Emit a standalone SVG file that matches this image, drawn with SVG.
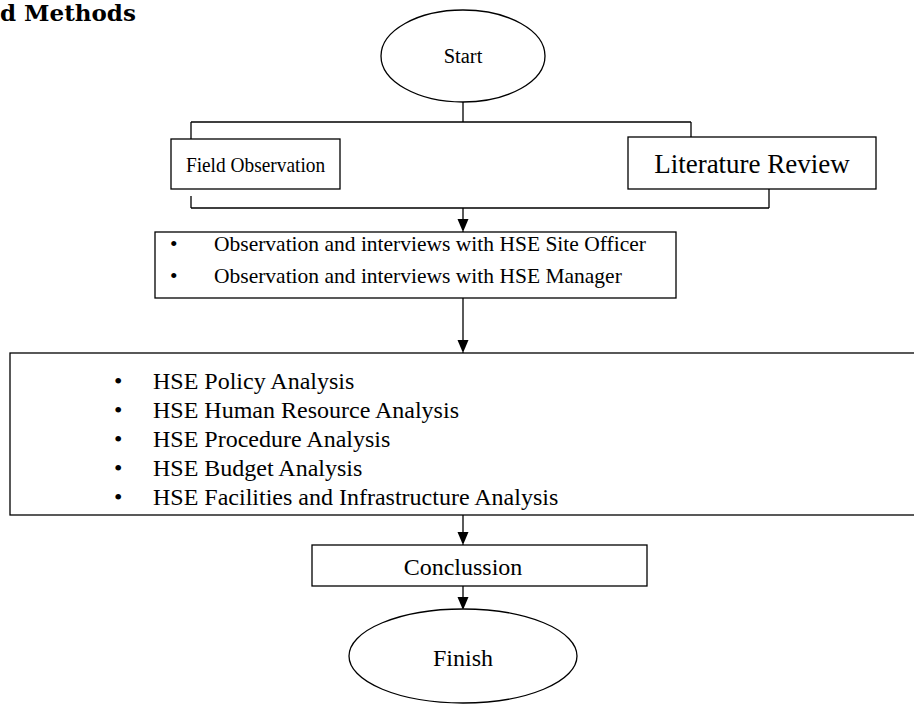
<svg xmlns="http://www.w3.org/2000/svg" width="914" height="706" viewBox="0 0 914 706">
<style>
.n{fill:#fff;stroke:#000;stroke-width:1.3}
.t{font-family:"Liberation Serif","Times New Roman",serif;fill:#000}
.c{stroke:#000;stroke-width:1.3;fill:none}
</style>
<defs>
<marker id="ah" markerWidth="11" markerHeight="13" refX="13" refY="5.5" orient="auto" markerUnits="userSpaceOnUse">
<path d="M0,0 L13,5.5 L0,11 Z" fill="#000"/>
</marker>
</defs>
<rect width="914" height="706" fill="#fff"/>
<text x="0" y="21" style="font-family:'DejaVu Serif',serif;font-weight:bold;font-size:23px">d Methods</text>
<g id="connectors">
<path class="c" d="M463,102 V122 M191,122 H691 M191,122 V139 M691,122 V137"/>
<path class="c" d="M191,196 V208 M769,189 V208 M191,208 H769"/>
<path class="c" d="M463,208 V232" marker-end="url(#ah)"/>
<path class="c" d="M463,298 V353" marker-end="url(#ah)"/>
<path class="c" d="M463,515 V545" marker-end="url(#ah)"/>
<path class="c" d="M463,586 V610" marker-end="url(#ah)"/>
</g>
<g id="start">
<ellipse class="n" cx="463" cy="56" rx="82" ry="46"/>
<text class="t" x="463" y="63" font-size="20.5" text-anchor="middle">Start</text>
</g>
<g id="field">
<rect class="n" x="171" y="139" width="169" height="50"/>
<text class="t" transform="translate(255.5,172) scale(0.88,1)" font-size="22" text-anchor="middle">Field Observation</text>
</g>
<g id="literature">
<rect class="n" x="628" y="137" width="248" height="52"/>
<text class="t" x="752" y="173" font-size="27" text-anchor="middle">Literature Review</text>
</g>
<g id="interviews">
<rect class="n" x="155" y="232" width="521" height="66"/>
<text class="t" font-size="21.5"><tspan x="170" y="251">•</tspan><tspan x="214" y="251">Observation and interviews with HSE Site Officer</tspan><tspan x="170" y="283">•</tspan><tspan x="214" y="283">Observation and interviews with HSE Manager</tspan></text>
</g>
<g id="analysis">
<rect class="n" x="10" y="353" width="930" height="162"/>
<text class="t" font-size="24"><tspan x="114" y="389">•</tspan><tspan x="153" y="389">HSE Policy Analysis</tspan><tspan x="114" y="418">•</tspan><tspan x="153" y="418">HSE Human Resource Analysis</tspan><tspan x="114" y="447">•</tspan><tspan x="153" y="447">HSE Procedure Analysis</tspan><tspan x="114" y="476">•</tspan><tspan x="153" y="476">HSE Budget Analysis</tspan><tspan x="114" y="505">•</tspan><tspan x="153" y="505">HSE Facilities and Infrastructure Analysis</tspan></text>
</g>
<g id="conclusion">
<rect class="n" x="312" y="545" width="335" height="41"/>
<text class="t" x="463" y="575" font-size="24" text-anchor="middle">Conclussion</text>
</g>
<g id="finish">
<ellipse class="n" cx="463" cy="656" rx="114" ry="47"/>
<text class="t" x="463" y="666" font-size="24" text-anchor="middle">Finish</text>
</g>
</svg>
